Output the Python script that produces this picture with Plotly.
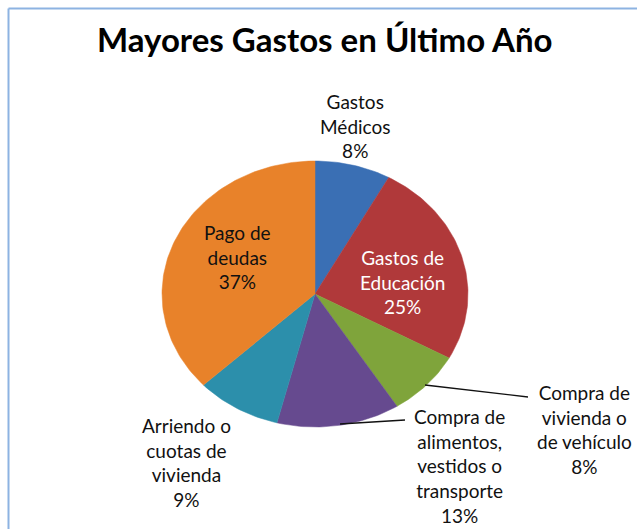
import numpy as np
import plotly.graph_objects as go

# ---- data ----
categories = ["Gastos Médicos", "Gastos de Educación", "Compra de vivienda o de vehículo",
              "Compra de alimentos, vestidos o transporte", "Arriendo o cuotas de vivienda",
              "Pago de deudas"]
label_text = ["Gastos<br>Médicos", "Gastos de<br>Educación", "Compra de<br>vivienda o<br>de vehículo",
              "Compra de<br>alimentos,<br>vestidos o<br>transporte", "Arriendo o<br>cuotas de<br>vivienda",
              "Pago de<br>deudas"]
percent = [8, 25, 8, 13, 9, 37]
colors = ["#3A6FB4", "#B0393A", "#7FA43B", "#664A8F", "#2C8FAB", "#E8822A"]
title = "Mayores Gastos en Último Año"

# ---- geometry (pixel-like axes) ----
W, H = 637, 529
cx, cy, rx, ry = 315, 294, 153, 133

fig = go.Figure()
total = sum(percent)
start = 0.0
for name, p, col in zip(categories, percent, colors):
    a0 = start / total * 2 * np.pi
    a1 = (start + p) / total * 2 * np.pi
    t = np.linspace(a0, a1, max(int(p * 3), 8))
    xs = np.concatenate([[cx], cx + rx * np.sin(t), [cx]])
    ys = np.concatenate([[cy], cy - ry * np.cos(t), [cy]])
    fig.add_trace(go.Scatter(x=xs, y=ys, fill="toself", fillcolor=col, mode="lines",
                             line=dict(color=col, width=0.5), name=name, hoverinfo="name"))
    start += p

# label positions (centres of text blocks)
label_pos = [(355, 126), (402, 282), (584, 429), (459, 466), (186, 462), (237, 257)]
label_col = ["#111111", "#FFFFFF", "#111111", "#111111", "#111111", "#111111"]
for txt, p, (lx, ly), c in zip(label_text, percent, label_pos, label_col):
    fig.add_annotation(x=lx, y=ly, xref="x", yref="y", text=f"{txt}<br>{p}%", showarrow=False,
                       font=dict(family="Lato, Open Sans, sans-serif", size=19, color=c),
                       align="center", xanchor="center", yanchor="middle")

# leader lines (from slice edge to label)
leaders = {2: [(425, 385), (528, 397)], 3: [(340, 424), (405, 420)]}
for i, pts in leaders.items():
    fig.add_trace(go.Scatter(x=[pts[0][0], pts[1][0]], y=[pts[0][1], pts[1][1]], mode="lines",
                             line=dict(color="#111111", width=1.3), hoverinfo="skip"))

fig.add_annotation(x=325, y=39, xref="x", yref="y", text=f"<b>{title}</b>", showarrow=False,
                   font=dict(family="Lato, Open Sans, sans-serif", size=33, color="#000000"),
                   xanchor="center", yanchor="middle")

# chart frame (left and top edges visible)
fig.add_shape(type="line", x0=8.5, y0=8.5, x1=W + 5, y1=8.5, xref="x", yref="y",
              line=dict(color="#8DB3E2", width=2))
fig.add_shape(type="line", x0=8.5, y0=8.5, x1=8.5, y1=H + 5, xref="x", yref="y",
              line=dict(color="#8DB3E2", width=2))

fig.update_layout(width=W, height=H, margin=dict(l=0, r=0, t=0, b=0), showlegend=False,
                  paper_bgcolor="white", plot_bgcolor="white",
                  xaxis=dict(range=[0, W], visible=False, fixedrange=True),
                  yaxis=dict(range=[H, 0], visible=False, fixedrange=True))
fig.write_html("out.html")
